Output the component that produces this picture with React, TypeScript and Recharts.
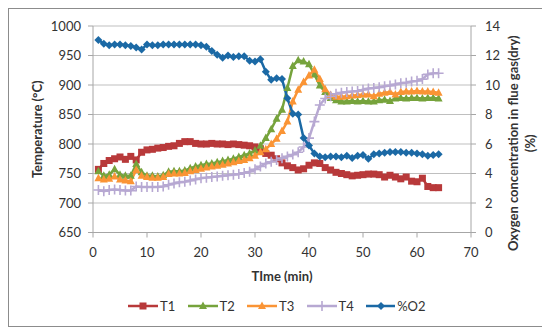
import React from "react";
import { LineChart, Line, XAxis, YAxis, CartesianGrid, Legend } from "recharts";

// minutes since start
const minutes = [
  1, 2, 3, 4, 5, 6, 7, 8, 9, 10, 11, 12, 13, 14, 15, 16, 17, 18, 19, 20, 21, 22,
  23, 24, 25, 26, 27, 28, 29, 30, 31, 32, 33, 34, 35, 36, 37, 38, 39, 40, 41, 42,
  43, 44, 45, 46, 47, 48, 49, 50, 51, 52, 53, 54, 55, 56, 57, 58, 59, 60, 61, 62,
  63, 64,
];

const t1 = [
  757, 767, 772, 775, 778, 774, 779, 773, 786, 790, 791, 793, 794, 796, 797, 801,
  804, 804, 801, 800, 800, 801, 800, 800, 799, 800, 799, 798, 797, 795, 792, 784,
  781, 775, 768, 763, 760, 756, 758, 764, 768, 767, 760, 756, 752, 750, 748, 746,
  747, 748, 749, 749, 748, 744, 747, 744, 741, 744, 737, 736, 742, 728, 726, 726,
];

const t2 = [
  754, 746, 748, 757, 748, 746, 746, 766, 752, 746, 746, 745, 747, 753, 754, 754,
  755, 759, 762, 764, 766, 767, 769, 771, 773, 775, 778, 781, 784, 789, 797, 810,
  825, 843, 858, 895, 932, 942, 940, 935, 918, 899, 888, 878, 874, 872, 872, 873,
  872, 873, 872, 872, 874, 875, 873, 877, 878, 877, 878, 878, 877, 878, 878, 877,
];

const t3 = [
  742, 740, 741, 745, 740, 738, 737, 756, 746, 744, 743, 743, 744, 749, 750, 750,
  751, 754, 756, 758, 760, 762, 763, 765, 767, 769, 771, 773, 776, 780, 786, 791,
  800, 809, 822, 838, 872, 892, 905, 916, 926, 910, 893, 883, 880, 880, 881, 882,
  883, 884, 884, 881, 885, 887, 888, 884, 888, 889, 889, 890, 889, 889, 888, 887,
];

const t4 = [
  722, 720, 722, 723, 722, 721, 721, 728, 727, 727, 727, 727, 728, 731, 733, 735,
  736, 738, 740, 742, 743, 744, 745, 746, 747, 748, 749, 751, 753, 757, 762, 767,
  770, 773, 776, 779, 782, 786, 795, 810, 838, 866, 877, 881, 885, 887, 888, 889,
  890, 892, 894, 895, 896, 898, 899, 901, 903, 904, 906, 907, 910, 918, 920, 920,
];

const o2 = [
  13.05, 12.8, 12.7, 12.75, 12.75, 12.7, 12.65, 12.55, 12.4, 12.75, 12.7, 12.7,
  12.75, 12.75, 12.75, 12.75, 12.75, 12.75, 12.75, 12.7, 12.6, 12.3, 12.05, 11.85,
  12.0, 11.9, 11.95, 11.95, 11.65, 11.6, 11.75, 10.9, 10.35, 10.45, 10.4, 9.1,
  8.05, 8.0, 6.4, 5.9, 5.35, 5.15, 5.1, 5.15, 5.15, 5.1, 5.2, 5.05, 5.2, 5.25,
  5.0, 5.3, 5.35, 5.4, 5.45, 5.45, 5.45, 5.4, 5.4, 5.35, 5.3, 5.2, 5.25, 5.3,
];

const timeTicks = [0, 10, 20, 30, 40, 50, 60, 70];
const tempTicks = [650, 700, 750, 800, 850, 900, 950, 1000];
const o2Ticks = [0, 2, 4, 6, 8, 10, 12, 14];

const series = [
  { key: "T1", color: "#B8393A", shape: "square", axis: "left" },
  { key: "T2", color: "#76A33C", shape: "triangle", axis: "left" },
  { key: "T3", color: "#FA9435", shape: "triangle", axis: "left" },
  { key: "T4", color: "#B7A8D2", shape: "plus", axis: "left" },
  { key: "%O2", color: "#1B69A5", shape: "diamond", axis: "right" },
];

const data = minutes.map((m, i) => ({
  t: m,
  T1: t1[i],
  T2: t2[i],
  T3: t3[i],
  T4: t4[i],
  "%O2": o2[i],
}));

const AXIS = "#A6A6A6";
const TEXT = "#333333";

function Marker({ shape, color, cx, cy }: any) {
  if (cx == null || cy == null) return null;
  if (shape === "square")
    return <rect x={cx - 3.5} y={cy - 3.5} width={7} height={7} fill={color} />;
  if (shape === "triangle")
    return (
      <polygon
        points={`${cx},${cy - 4.5} ${cx + 4},${cy + 3} ${cx - 4},${cy + 3}`}
        fill={color}
      />
    );
  if (shape === "plus")
    return (
      <path
        d={`M${cx - 5},${cy}H${cx + 5}M${cx},${cy - 5}V${cy + 5}`}
        stroke={color}
        strokeWidth={1.6}
        fill="none"
      />
    );
  return (
    <polygon
      points={`${cx},${cy - 4} ${cx + 4},${cy} ${cx},${cy + 4} ${cx - 4},${cy}`}
      fill={color}
    />
  );
}

function LeftTitle({ viewBox }: any) {
  const x = viewBox.x + 28;
  const y = viewBox.y + viewBox.height / 2;
  return (
    <text
      x={x}
      y={y}
      transform={`rotate(-90 ${x} ${y})`}
      textAnchor="middle"
      dominantBaseline="central"
      fontSize={13}
      fontWeight="bold"
      fill={TEXT}
    >
      Temperature (°C)
    </text>
  );
}

function RightTitle({ viewBox }: any) {
  const x1 = viewBox.x + 42;
  const x2 = viewBox.x + 59;
  const y = viewBox.y + viewBox.height / 2 + 14;
  return (
    <g fontSize={13} fontWeight="bold" fill={TEXT}>
      <text
        x={x1}
        y={y}
        transform={`rotate(-90 ${x1} ${y})`}
        textAnchor="middle"
        dominantBaseline="central"
      >
        Oxygen concentration in flue gas(dry)
      </text>
      <text
        x={x2}
        y={y}
        transform={`rotate(-90 ${x2} ${y})`}
        textAnchor="middle"
        dominantBaseline="central"
      >
        (%)
      </text>
    </g>
  );
}

function XTitle({ viewBox }: any) {
  return (
    <text
      x={viewBox.x + viewBox.width / 2}
      y={viewBox.y + 43.5}
      textAnchor="middle"
      dominantBaseline="central"
      fontSize={13}
      fontWeight="bold"
      fill={TEXT}
    >
      TIme (min)
    </text>
  );
}

function LegendBox() {
  return (
    <div
      style={{
        display: "flex",
        alignItems: "center",
        height: 18,
        paddingLeft: 119,
        fontSize: 13,
        color: TEXT,
      }}
    >
      {series.map((s) => (
        <div
          key={s.key}
          style={{ display: "flex", alignItems: "center", width: 59.5, flex: "none" }}
        >
          <svg width={30} height={12}>
            <line x1={0} y1={6} x2={30} y2={6} stroke={s.color} strokeWidth={2.5} />
            <Marker shape={s.shape} color={s.color} cx={15} cy={6} />
          </svg>
          <span style={{ marginLeft: 2 }}>{s.key}</span>
        </div>
      ))}
    </div>
  );
}

export default function App() {
  return (
    <div
      style={{
        width: 534,
        height: 317,
        border: "1px solid #8C8C8C",
        boxShadow: "3px 3px 3px rgba(0,0,0,0.3)",
        fontFamily: "Lato, 'Open Sans', sans-serif",
        background: "#fff",
      }}
    >
      <LineChart
        width={534}
        height={317}
        data={data}
        margin={{ top: 17, right: 0, bottom: 11, left: 0 }}
      >
        <CartesianGrid yAxisId="left" vertical={false} stroke="#BFBFBF" />
        <XAxis
          dataKey="t"
          type="number"
          domain={[0, 70]}
          ticks={timeTicks}
          height={64.5}
          tickSize={5}
          tickMargin={10}
          axisLine={{ stroke: AXIS }}
          tickLine={{ stroke: AXIS }}
          tick={{ fontSize: 13, fill: TEXT }}
          label={{ content: (p: any) => <XTitle viewBox={p.viewBox} /> }}
        />
        <YAxis
          yAxisId="left"
          domain={[650, 1000]}
          ticks={tempTicks}
          width={84}
          tickSize={5}
          tickMargin={7}
          axisLine={{ stroke: AXIS }}
          tickLine={{ stroke: AXIS }}
          tick={{ fontSize: 13, fill: TEXT }}
          label={{ content: (p: any) => <LeftTitle viewBox={p.viewBox} /> }}
        />
        <YAxis
          yAxisId="right"
          orientation="right"
          domain={[0, 14]}
          ticks={o2Ticks}
          width={72}
          tickSize={5}
          tickMargin={9}
          axisLine={{ stroke: AXIS }}
          tickLine={{ stroke: AXIS }}
          tick={{ fontSize: 13, fill: TEXT }}
          label={{ content: (p: any) => <RightTitle viewBox={p.viewBox} /> }}
        />
        <Legend verticalAlign="bottom" height={18} content={() => <LegendBox />} />
        {series.map((s) => (
          <Line
            key={s.key}
            yAxisId={s.axis}
            dataKey={s.key}
            stroke={s.color}
            strokeWidth={2.5}
            isAnimationActive={false}
            dot={(p: any) => (
              <Marker
                key={`${s.key}-${p.index}`}
                shape={s.shape}
                color={s.color}
                cx={p.cx}
                cy={p.cy}
              />
            )}
            activeDot={false}
          />
        ))}
      </LineChart>
    </div>
  );
}
